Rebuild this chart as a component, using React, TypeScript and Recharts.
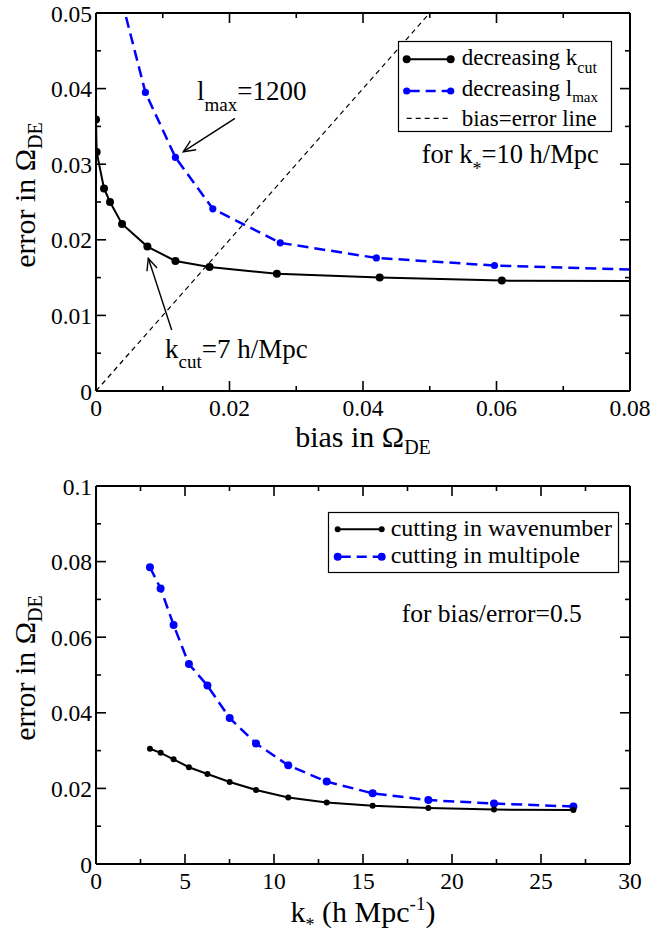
import React from 'react';
import { LineChart, Line, XAxis, YAxis } from 'recharts';

// ---------- data: top panel (bias vs error, k* = 10 h/Mpc) ----------
const cutBias = [0, 0.0001, 0.0012, 0.0021, 0.0039, 0.0077, 0.0119, 0.017, 0.0271, 0.0425, 0.0608, 0.09];
const cutError = [0.0359, 0.0316, 0.0268, 0.025, 0.0221, 0.0191, 0.0172, 0.0164, 0.0155, 0.015, 0.0146, 0.0145];
const lmaxBias = [0.0026, 0.0074, 0.0119, 0.0175, 0.0276, 0.042, 0.0597, 0.09];
const lmaxError = [0.056, 0.0395, 0.0309, 0.0241, 0.0196, 0.0176, 0.0166, 0.0158];
const equalBias = [0, 0.05];
const equalError = [0, 0.05];

// ---------- data: bottom panel (k* vs error at bias/error = 0.5) ----------
const kStar = [3.03, 3.63, 4.36, 5.22, 6.26, 7.51, 8.99, 10.8, 12.96, 15.54, 18.67, 22.36, 26.82];
const errWavenumber = [0.0305, 0.0294, 0.0277, 0.0256, 0.0238, 0.0217, 0.0196, 0.0176, 0.0163, 0.0154, 0.0148, 0.0144, 0.0143];
const errMultipole = [0.0785, 0.0729, 0.0632, 0.0529, 0.0472, 0.0386, 0.0319, 0.0261, 0.0218, 0.0187, 0.0169, 0.016, 0.0152];

// ---------- ticks ----------
const topXMajor = [0, 0.02, 0.04, 0.06, 0.08];
const topXLabels = ['0', '0.02', '0.04', '0.06', '0.08'];
const topXMinor = [0.01, 0.03, 0.05, 0.07];
const topYMajor = [0, 0.01, 0.02, 0.03, 0.04, 0.05];
const topYLabels = ['0', '0.01', '0.02', '0.03', '0.04', '0.05'];
const topYMinor = [0.005, 0.015, 0.025, 0.035, 0.045];
const botXMajor = [0, 5, 10, 15, 20, 25, 30];
const botXLabels = ['0', '5', '10', '15', '20', '25', '30'];
const botXMinor = [2.5, 7.5, 12.5, 17.5, 22.5, 27.5];
const botYMajor = [0, 0.02, 0.04, 0.06, 0.08, 0.1];
const botYLabels = ['0', '0.02', '0.04', '0.06', '0.08', '0.1'];
const botYMinor = [0.01, 0.03, 0.05, 0.07, 0.09];

const zip = (xs: number[], ys: number[]) => xs.map((x, i) => ({ x, y: ys[i] }));
const allTicks = (a: number[], b: number[]) => [...a, ...b].sort((p, q) => p - q);

const FONT = "'Liberation Serif'";
const BLUE = '#0000ff';
const TS = { fontFamily: FONT };
const TICK_FS = 23.5;

type Kind = 'bottom' | 'top' | 'left' | 'right';
const makeTick = (kind: Kind, majors: number[], labels: string[]) => (props: any) => {
  const { x, y, payload } = props;
  const v = payload.value;
  const idx = majors.findIndex((m) => Math.abs(m - v) < 1e-9);
  const major = idx >= 0;
  const len = major ? 10 : 5;
  let x2 = x;
  let y2 = y;
  if (kind === 'bottom') y2 = y - len;
  if (kind === 'top') y2 = y + len;
  if (kind === 'left') x2 = x + len;
  if (kind === 'right') x2 = x - len;
  let label: any = null;
  if (major && kind === 'bottom') {
    label = (
      <text x={x} y={y + 25} textAnchor="middle" style={TS} fontSize={TICK_FS} fill="#000">
        {labels[idx]}
      </text>
    );
  }
  if (major && kind === 'left') {
    label = (
      <text x={x - 4} y={y + 8.5} textAnchor="end" style={TS} fontSize={TICK_FS} fill="#000">
        {labels[idx]}
      </text>
    );
  }
  return (
    <g>
      <line x1={x} y1={y} x2={x2} y2={y2} stroke="#000" strokeWidth={1.6} />
      {label}
    </g>
  );
};

const axisLine = { stroke: '#000', strokeWidth: 2 };

const Arrow = ({ x1, y1, x2, y2 }: { x1: number; y1: number; x2: number; y2: number }) => {
  const a = Math.atan2(y2 - y1, x2 - x1);
  const L = 13;
  const s = 0.42;
  const p1 = [x2 - L * Math.cos(a - s), y2 - L * Math.sin(a - s)];
  const p2 = [x2 - L * Math.cos(a + s), y2 - L * Math.sin(a + s)];
  return (
    <g stroke="#000" strokeWidth={1.4} fill="none">
      <line x1={x1} y1={y1} x2={x2} y2={y2} />
      <polyline points={`${p1[0]},${p1[1]} ${x2},${y2} ${p2[0]},${p2[1]}`} />
    </g>
  );
};

const commonX = {
  type: 'number' as const,
  dataKey: 'x',
  allowDataOverflow: true,
  interval: 0 as const,
  tickSize: 0,
  tickMargin: 0,
  tickLine: false,
  axisLine,
};

export default function App() {
  return (
    <div style={{ position: 'absolute', left: 0, top: 0, width: 653, height: 935, background: '#fff', fontFamily: FONT }}>
      {/* top panel */}
      <div style={{ position: 'absolute', left: 0, top: 0 }}>
        <LineChart width={653} height={431} margin={{ top: 12, right: 22, bottom: 0, left: 36 }}>
          <XAxis xAxisId="b" {...commonX} domain={[0, 0.08]} ticks={allTicks(topXMajor, topXMinor)} tick={makeTick('bottom', topXMajor, topXLabels)} height={40} />
          <XAxis xAxisId="t" orientation="top" {...commonX} domain={[0, 0.08]} ticks={allTicks(topXMajor, topXMinor)} tick={makeTick('top', topXMajor, topXLabels)} height={1} />
          <YAxis yAxisId="l" {...commonX} dataKey={undefined} domain={[0, 0.05]} ticks={allTicks(topYMajor, topYMinor)} tick={makeTick('left', topYMajor, topYLabels)} width={60} />
          <YAxis yAxisId="r" orientation="right" {...commonX} dataKey={undefined} domain={[0, 0.05]} ticks={allTicks(topYMajor, topYMinor)} tick={makeTick('right', topYMajor, topYLabels)} width={1} />
          <Line
            xAxisId="b"
            yAxisId="l"
            data={zip(equalBias, equalError)}
            dataKey="y"
            type="linear"
            stroke="#000"
            strokeWidth={1.2}
            strokeDasharray="5 4"
            dot={false}
            isAnimationActive={false}
          />
          <Line
            xAxisId="b"
            yAxisId="l"
            data={zip(lmaxBias, lmaxError)}
            dataKey="y"
            type="linear"
            stroke={BLUE}
            strokeWidth={2.5}
            strokeDasharray="11 6"
            dot={{ r: 3.6, fill: BLUE, stroke: 'none', strokeDasharray: '' }}
            isAnimationActive={false}
          />
          <Line
            xAxisId="b"
            yAxisId="l"
            data={zip(cutBias, cutError)}
            dataKey="y"
            type="linear"
            stroke="#000"
            strokeWidth={2}
            dot={{ r: 4, fill: '#000', stroke: 'none' }}
            isAnimationActive={false}
          />
        </LineChart>
      </div>

      {/* bottom panel */}
      <div style={{ position: 'absolute', left: 0, top: 470 }}>
        <LineChart width={653} height={434} margin={{ top: 15, right: 22, bottom: 0, left: 36 }}>
          <XAxis xAxisId="b" {...commonX} domain={[0, 30]} ticks={allTicks(botXMajor, botXMinor)} tick={makeTick('bottom', botXMajor, botXLabels)} height={40} />
          <XAxis xAxisId="t" orientation="top" {...commonX} domain={[0, 30]} ticks={allTicks(botXMajor, botXMinor)} tick={makeTick('top', botXMajor, botXLabels)} height={1} />
          <YAxis yAxisId="l" {...commonX} dataKey={undefined} domain={[0, 0.1]} ticks={allTicks(botYMajor, botYMinor)} tick={makeTick('left', botYMajor, botYLabels)} width={60} />
          <YAxis yAxisId="r" orientation="right" {...commonX} dataKey={undefined} domain={[0, 0.1]} ticks={allTicks(botYMajor, botYMinor)} tick={makeTick('right', botYMajor, botYLabels)} width={1} />
          <Line
            xAxisId="b"
            yAxisId="l"
            data={zip(kStar, errMultipole)}
            dataKey="y"
            type="linear"
            stroke={BLUE}
            strokeWidth={2.5}
            strokeDasharray="11 6"
            dot={{ r: 4, fill: BLUE, stroke: 'none', strokeDasharray: '' }}
            isAnimationActive={false}
          />
          <Line
            xAxisId="b"
            yAxisId="l"
            data={zip(kStar, errWavenumber)}
            dataKey="y"
            type="linear"
            stroke="#000"
            strokeWidth={2}
            dot={{ r: 3, fill: '#000', stroke: 'none' }}
            isAnimationActive={false}
          />
        </LineChart>
      </div>

      {/* annotations, legends, axis titles */}
      <svg width={653} height={935} style={{ position: 'absolute', left: 0, top: 0, pointerEvents: 'none', fontFamily: FONT }}>
        {/* top legend */}
        <rect x={398.5} y={41.5} width={213} height={90} fill="#fff" stroke="#000" strokeWidth={1.2} />
        <line x1={406.7} y1={59.3} x2={450.7} y2={59.3} stroke="#000" strokeWidth={2} />
        <circle cx={406.7} cy={59.3} r={4} fill="#000" />
        <circle cx={450.7} cy={59.3} r={4} fill="#000" />
        <text x={461.7} y={64.5} style={TS} fontSize={23} fill="#000">
          decreasing k<tspan fontSize={16} dy={8}>cut</tspan>
        </text>
        <line x1={406.7} y1={91} x2={450.7} y2={91} stroke={BLUE} strokeWidth={2.5} strokeDasharray="10 6" strokeDashoffset={-3} />
        <circle cx={406.7} cy={91} r={3.6} fill={BLUE} />
        <circle cx={450.7} cy={91} r={3.6} fill={BLUE} />
        <text x={461.7} y={95.5} style={TS} fontSize={23} fill="#000">
          decreasing l<tspan fontSize={15} dy={6}>max</tspan>
        </text>
        <line x1={406.7} y1={118.3} x2={450.7} y2={118.3} stroke="#000" strokeWidth={1.2} strokeDasharray="5 4" />
        <text x={461.7} y={125.5} style={TS} fontSize={23} fill="#000">
          bias=error line
        </text>
        <text x={421.7} y={163.3} style={TS} fontSize={26.5} fill="#000">
          for k<tspan fontSize={18} dy={12}>*</tspan>
          <tspan dy={-12}>=10 h/Mpc</tspan>
        </text>

        {/* top annotations */}
        <text x={197} y={100} style={TS} fontSize={27} fill="#000">
          l<tspan fontSize={19} dy={11}>max</tspan>
          <tspan dy={-11}>=1200</tspan>
        </text>
        <Arrow x1={235} y1={118.3} x2={183.3} y2={151.7} />
        <text x={165} y={358} style={TS} fontSize={27} fill="#000">
          k<tspan fontSize={19} dy={10}>cut</tspan>
          <tspan dy={-10}>=7 h/Mpc</tspan>
        </text>
        <Arrow x1={171.7} y1={330} x2={148.3} y2={258.3} />

        {/* top axis titles */}
        <text x={363} y={447} textAnchor="middle" style={TS} fontSize={30} fill="#000">
          bias in Ω<tspan fontSize={20} dy={7}>DE</tspan>
        </text>
        <text transform="translate(35,195) rotate(-90)" textAnchor="middle" style={TS} fontSize={30} fill="#000">
          error in Ω<tspan fontSize={20} dy={7}>DE</tspan>
        </text>

        {/* bottom legend */}
        <rect x={328.5} y={512.5} width={290} height={60} fill="#fff" stroke="#000" strokeWidth={1.2} />
        <line x1={337.7} y1={529.3} x2={381.7} y2={529.3} stroke="#000" strokeWidth={2} />
        <circle cx={337.7} cy={529.3} r={3} fill="#000" />
        <circle cx={381.7} cy={529.3} r={3} fill="#000" />
        <text x={390.7} y={535.5} style={TS} fontSize={24} fill="#000">
          cutting in wavenumber
        </text>
        <line x1={337.7} y1={556.7} x2={381.7} y2={556.7} stroke={BLUE} strokeWidth={2.5} strokeDasharray="10 6" strokeDashoffset={-3} />
        <circle cx={337.7} cy={556.7} r={4} fill={BLUE} />
        <circle cx={381.7} cy={556.7} r={4} fill={BLUE} />
        <text x={390.7} y={562.5} style={TS} fontSize={24} fill="#000">
          cutting in multipole
        </text>
        <text x={401.7} y={622} style={TS} fontSize={25.5} fill="#000">
          for bias/error=0.5
        </text>

        {/* bottom axis titles */}
        <text x={363} y={922} textAnchor="middle" style={TS} fontSize={30} fill="#000">
          k<tspan fontSize={18} dy={9}>*</tspan>
          <tspan dy={-9}> (h Mpc</tspan>
          <tspan fontSize={19} dy={-12}>-1</tspan>
          <tspan dy={12}>)</tspan>
        </text>
        <text transform="translate(35,668) rotate(-90)" textAnchor="middle" style={TS} fontSize={30} fill="#000">
          error in Ω<tspan fontSize={20} dy={7}>DE</tspan>
        </text>
      </svg>
    </div>
  );
}
